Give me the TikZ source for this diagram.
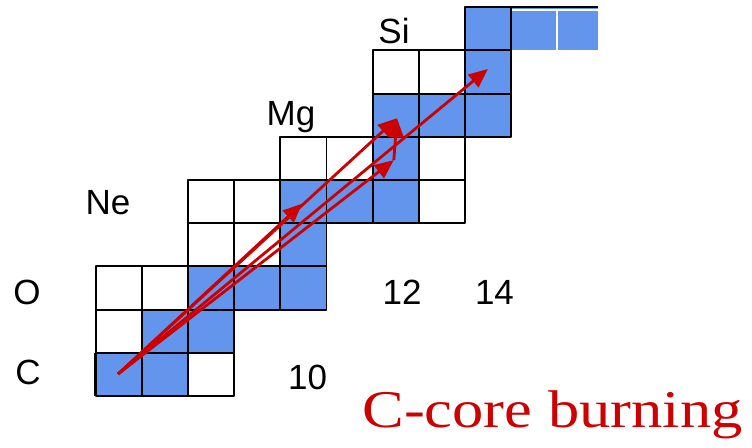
\documentclass[tikz,border=0pt]{standalone}
\usepackage{fontspec}
\setmainfont{Liberation Sans}
\newfontfamily\captionfont{Liberation Serif}
\usetikzlibrary{arrows.meta}
\definecolor{ChartBlue}{HTML}{6495ED}
\definecolor{ChartRed}{HTML}{CC0000}

\begin{document}
\begin{tikzpicture}[x=46.1pt,y=43.2pt,line join=round,
  elem/.style={anchor=base,font=\fontsize{35}{40}\selectfont},
  reaction/.style={ChartRed,line width=2.8pt,-{Triangle[length=19pt,width=16pt]}}]
  \useasboundingbox (-2.0824,-1.1806) rectangle (14.23,9.1667);
  % stable nuclei
  \foreach \i/\j in {0/0,1/0,1/1,2/1,2/2,3/2,4/2,4/3,4/4,5/4,6/4,6/5,6/6,7/6,8/6,8/7,8/8}{\fill[ChartBlue] (\i,\j) rectangle ++(1,1);}
  \fill[ChartBlue] (9,8) rectangle (10.89,9);
  \draw[white,line width=1.5pt] (9,8)--(9,8.93)--(10.89,8.93);\draw[white,line width=1.5pt] (10,8)--(10,8.93);
  % chart cells
  \foreach \i/\j in {0/0,1/0,2/0,0/1,1/1,2/1,0/2,1/2,2/2,3/2,4/2,2/3,3/3,4/3,2/4,3/4,4/4,5/4,6/4,7/4,4/5,5/5,6/5,7/5,6/6,7/6,8/6,6/7,7/7,8/7,8/8}{\draw[line width=1.9pt] (\i,\j) rectangle ++(1,1);}
  \draw[line width=1.9pt] (9,9)--(10.89,9);
  \draw[line width=3pt] (0,0)--(0,1);
  \coordinate (C12) at (0.48,0.51);\coordinate (Ne20) at (4.47,4.45);\coordinate (Na23) at (6.46,5.46);
  \coordinate (Mg24) at (6.53,6.43);\coordinate (Al27) at (8.5,7.57);
  \draw[reaction] (C12)--(Ne20);
  \draw[reaction] (C12)--(Mg24);
  \draw[reaction] (C12)--(Na23);
  \draw[reaction] (Na23)--(Mg24);
  \draw[reaction] (C12)--(Al27);
  \node[elem] (lblC) at (-1.475,0.255) {C};\node[elem] (lblO) at (-1.497,2.11) {O};
  \node[elem] (lblNe) at (0.26,4.19) {Ne};\node[elem] (lblMg) at (4.23,6.273) {Mg};\node[elem] (lblSi) at (6.464,8.171) {Si};
  \node[elem] (n10) at (4.588,0.139) {10};\node[elem] (n12) at (6.638,2.11) {12};\node[elem] (n14) at (8.644,2.11) {14};
  \node[anchor=base,xscale=1.18,ChartRed,font=\captionfont\fontsize{53}{60}\selectfont] (title) at (9.902,-0.718) {C-core burning};
\end{tikzpicture}
\end{document}
